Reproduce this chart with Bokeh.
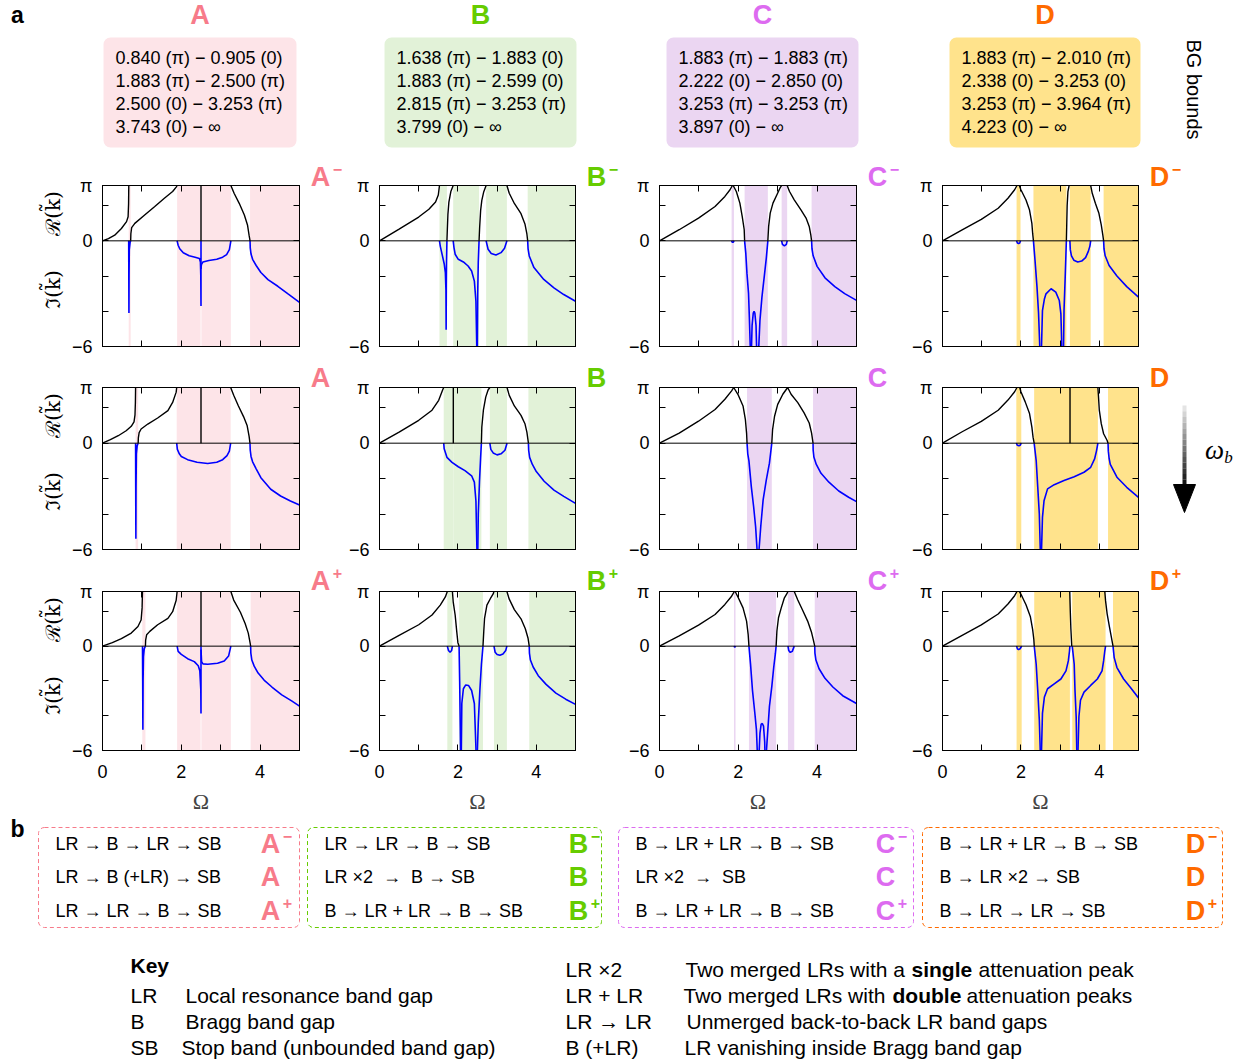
import math
from bokeh.plotting import figure
from bokeh.models import Range1d, FixedTicker, LinearAxis, Span
from bokeh.layouts import column, row
from bokeh.core.properties import value
from bokeh.embed import file_html
from bokeh.resources import INLINE

PI = math.pi

# ---------------- data: band-gap bounds (header, middle row) ----------------
bg_text_A = ["0.840 (π) − 0.905 (0)", "1.883 (π) − 2.500 (π)", "2.500 (0) − 3.253 (π)", "3.743 (0) − ∞"]
bg_text_B = ["1.638 (π) − 1.883 (0)", "1.883 (π) − 2.599 (0)", "2.815 (π) − 3.253 (π)", "3.799 (0) − ∞"]
bg_text_C = ["1.883 (π) − 1.883 (π)", "2.222 (0) − 2.850 (0)", "3.253 (π) − 3.253 (π)", "3.897 (0) − ∞"]
bg_text_D = ["1.883 (π) − 2.010 (π)", "2.338 (0) − 3.253 (0)", "3.253 (π) − 3.964 (π)", "4.223 (0) − ∞"]

# ---------------- data: gaps (shaded), Re(k) (black), Im(k) (blue) ----------------
# Row 1 (minus)
gaps_Am = [(0.665, 0.715), (1.894, 2.49), (2.51, 3.258), (3.745, 5.0)]
re_Am = [
    [(0, 0), (0.15, 0.13), (0.31, 0.32), (0.48, 0.70), (0.61, 1.09), (0.65, 1.37), (0.662, 2.1), (0.667, PI)],
    [(0.715, 0), (0.72, 0.4), (0.74, 0.75), (0.82, 0.99), (1.07, 1.47), (1.32, 1.94), (1.57, 2.42), (1.78, 2.8), (1.87, 3.05), (1.894, PI)],
    [(2.5, 0), (2.5, PI)],
    [(3.258, PI), (3.34, 2.7), (3.47, 2.13), (3.6, 1.47), (3.68, 0.9), (3.72, 0.32), (3.745, 0)],
]
im_Am = [
    [(0.665, 0), (0.668, -2.0), (0.671, -4.1), (0.674, -2.0), (0.68, -0.5), (0.70, -0.1), (0.715, 0)],
    [(1.894, 0), (1.92, -0.25), (1.96, -0.45), (2.05, -0.68), (2.2, -0.85), (2.35, -0.93), (2.46, -1.0), (2.485, -1.2), (2.495, -2.0), (2.5, -3.7), (2.5, 0)],
    [(2.5, -1.6), (2.51, -1.35), (2.55, -1.2), (2.7, -1.12), (2.9, -1.05), (3.05, -0.93), (3.15, -0.78), (3.22, -0.5), (3.258, 0)],
    [(3.745, 0), (3.75, -0.4), (3.77, -0.75), (3.81, -1.05), (3.9, -1.4), (4.02, -1.8), (4.2, -2.2), (4.45, -2.58), (4.7, -3.0), (5.0, -3.49)],
]
gaps_Bm = [(1.53, 1.72), (1.88, 2.54), (2.72, 3.25), (3.78, 5.0)]
re_Bm = [
    [(0, 0), (0.5, 0.67), (1.0, 1.35), (1.26, 1.79), (1.43, 2.2), (1.5, 2.6), (1.53, PI)],
    [(1.72, 0), (1.73, 0.6), (1.745, 1.5), (1.77, 2.2), (1.82, 2.8), (1.88, PI)],
    [(2.54, 0), (2.555, 0.77), (2.58, 1.73), (2.61, 2.3), (2.66, 2.79), (2.72, PI)],
    [(3.25, PI), (3.31, 2.7), (3.44, 2.12), (3.61, 1.54), (3.71, 0.96), (3.76, 0.39), (3.78, 0)],
]
im_Bm = [
    [(1.53, 0), (1.55, -0.3), (1.6, -0.8), (1.65, -1.3), (1.68, -1.8), (1.695, -2.8), (1.70, -5.05), (1.705, -2.5), (1.71, -1.2), (1.72, 0)],
    [(1.88, 0), (1.9, -0.38), (1.93, -0.76), (2.01, -1.05), (2.14, -1.2), (2.26, -1.43), (2.35, -1.71), (2.42, -2.29), (2.46, -3.43), (2.485, -6.5)],
    [(2.495, -6.5), (2.505, -3.0), (2.52, -1.2), (2.54, 0)],
    [(2.72, 0), (2.77, -0.48), (2.85, -0.72), (2.97, -0.8), (3.1, -0.67), (3.19, -0.42), (3.25, 0)],
    [(3.78, 0), (3.79, -0.45), (3.82, -0.86), (3.94, -1.52), (4.19, -2.19), (4.45, -2.67), (4.7, -3.05), (5.0, -3.43)],
]
gaps_Cm = [(1.83, 1.89), (2.16, 2.75), (3.1, 3.24), (3.86, 5.0)]
re_Cm = [
    [(0, 0), (0.5, 0.63), (0.99, 1.29), (1.41, 1.95), (1.66, 2.52), (1.79, 2.9), (1.85, PI)],
    [(1.87, PI), (1.95, 2.8), (2.04, 2.14), (2.1, 1.38), (2.15, 0.63), (2.16, 0)],
    [(2.75, 0), (2.77, 0.82), (2.81, 1.57), (2.88, 2.14), (2.98, 2.62), (3.06, 3.0), (3.1, PI)],
    [(3.24, PI), (3.3, 2.8), (3.42, 2.33), (3.59, 1.76), (3.72, 1.29), (3.8, 0.82), (3.84, 0.34), (3.86, 0)],
]
im_Cm = [
    [(1.83, 0), (1.845, -0.07), (1.86, -0.09), (1.875, -0.07), (1.89, 0)],
    [(2.16, 0), (2.19, -0.7), (2.22, -1.85), (2.26, -3.0), (2.28, -4.3), (2.31, -6.5)],
    [(2.33, -6.5), (2.35, -4.8), (2.38, -4.1), (2.40, -4.0), (2.42, -4.1), (2.45, -4.8), (2.47, -6.5)],
    [(2.51, -6.5), (2.55, -4.5), (2.6, -3.2), (2.66, -2.0), (2.71, -1.0), (2.75, 0)],
    [(3.1, 0), (3.12, -0.2), (3.17, -0.29), (3.22, -0.2), (3.24, 0)],
    [(3.86, 0), (3.87, -0.45), (3.9, -0.85), (4.0, -1.45), (4.2, -2.1), (4.45, -2.6), (4.7, -3.0), (5.0, -3.38)],
]
gaps_Dm = [(1.89, 1.99), (2.32, 3.16), (3.25, 3.78), (4.11, 5.0)]
re_Dm = [
    [(0, 0), (0.49, 0.61), (0.99, 1.22), (1.42, 1.85), (1.67, 2.42), (1.84, 2.9), (1.9, PI)],
    [(1.96, PI), (2.0, 2.9), (2.13, 2.32), (2.22, 1.75), (2.28, 0.99), (2.3, 0.42), (2.32, 0)],
    [(3.16, 0), (3.17, 1.0), (3.18, 2.0), (3.2, 2.8), (3.23, PI)],
    [(3.78, PI), (3.82, 2.7), (3.9, 2.13), (3.99, 1.56), (4.05, 0.9), (4.09, 0.32), (4.11, 0)],
]
im_Dm = [
    [(1.89, 0), (1.91, -0.12), (1.94, -0.15), (1.97, -0.12), (1.99, 0)],
    [(2.32, 0), (2.36, -1.1), (2.41, -2.6), (2.45, -4.1), (2.49, -6.5)],
    [(2.52, -6.5), (2.55, -3.96), (2.6, -3.3), (2.64, -3.01), (2.77, -2.72), (2.89, -2.91), (2.98, -3.39), (3.02, -4.15), (3.05, -6.5)],
    [(3.085, -6.5), (3.1, -3.96), (3.13, -2.06), (3.16, 0)],
    [(3.25, 0), (3.26, -0.5), (3.29, -0.85), (3.35, -1.1), (3.45, -1.2), (3.55, -1.15), (3.65, -0.95), (3.72, -0.6), (3.76, -0.3), (3.78, 0)],
    [(4.11, 0), (4.12, -0.45), (4.15, -0.85), (4.25, -1.4), (4.45, -2.0), (4.7, -2.6), (5.0, -3.2)],
]

# Row 2 (nominal)
gaps_A = [(0.840, 0.905), (1.883, 2.500), (2.500, 3.253), (3.743, 5.0)]
re_A = [
    [(0, 0), (0.2, 0.2), (0.4, 0.42), (0.6, 0.7), (0.73, 0.95), (0.8, 1.2), (0.825, 1.6), (0.835, 2.3), (0.84, PI)],
    [(0.905, 0), (0.91, 0.3), (0.93, 0.6), (0.98, 0.8), (1.15, 1.08), (1.4, 1.42), (1.66, 1.84), (1.78, 2.3), (1.87, 2.88), (1.883, PI)],
    [(2.5, PI), (2.5, 0)],
    [(3.253, PI), (3.33, 2.7), (3.45, 2.1), (3.58, 1.5), (3.67, 1.0), (3.72, 0.4), (3.743, 0)],
]
im_A = [
    [(0.84, 0), (0.843, -2.5), (0.847, -5.4), (0.851, -2.5), (0.86, -0.6), (0.88, -0.15), (0.905, 0)],
    [(1.883, 0), (1.9, -0.35), (1.95, -0.6), (2.0, -0.75), (2.16, -0.93), (2.4, -1.08), (2.67, -1.15), (2.9, -1.08), (3.05, -0.93), (3.16, -0.7), (3.22, -0.45), (3.253, 0)],
    [(3.743, 0), (3.75, -0.4), (3.77, -0.75), (3.81, -1.05), (3.9, -1.45), (4.02, -1.95), (4.27, -2.6), (4.52, -2.98), (4.77, -3.26), (5.0, -3.49)],
]
gaps_B = [(1.638, 1.883), (1.883, 2.599), (2.815, 3.253), (3.799, 5.0)]
re_B = [
    [(0, 0), (0.5, 0.62), (1.0, 1.29), (1.34, 1.86), (1.51, 2.42), (1.61, 3.0), (1.638, PI)],
    [(1.883, PI), (1.883, 0)],
    [(2.599, 0), (2.61, 0.9), (2.65, 1.86), (2.71, 2.6), (2.77, 3.0), (2.815, PI)],
    [(3.253, PI), (3.31, 2.7), (3.44, 2.1), (3.61, 1.57), (3.71, 1.1), (3.76, 0.62), (3.799, 0)],
]
im_B = [
    [(1.638, 0), (1.65, -0.32), (1.72, -0.8), (1.85, -1.08), (2.01, -1.33), (2.18, -1.55), (2.35, -1.84), (2.42, -2.2), (2.46, -3.26), (2.49, -6.5)],
    [(2.505, -6.5), (2.52, -4.0), (2.55, -2.2), (2.58, -0.8), (2.599, 0)],
    [(2.815, 0), (2.84, -0.35), (2.9, -0.55), (3.0, -0.66), (3.1, -0.6), (3.2, -0.4), (3.253, 0)],
    [(3.799, 0), (3.805, -0.4), (3.83, -0.8), (3.9, -1.2), (4.0, -1.6), (4.2, -2.15), (4.45, -2.65), (4.7, -3.0), (5.0, -3.4)],
]
gaps_C = [(2.222, 2.850), (3.897, 5.0)]
re_C = [
    [(0, 0), (0.5, 0.57), (0.99, 1.24), (1.41, 1.9), (1.66, 2.48), (1.83, 2.95), (1.883, PI), (1.99, 2.76), (2.12, 2.1), (2.18, 1.33), (2.21, 0.57), (2.222, 0)],
    [(2.85, 0), (2.87, 0.76), (2.92, 1.52), (3.0, 2.19), (3.13, 2.76), (3.253, PI), (3.34, 2.76), (3.51, 2.29), (3.67, 1.71), (3.8, 1.14), (3.86, 0.57), (3.897, 0)],
]
im_C = [
    [(2.222, 0), (2.24, -0.6), (2.27, -1.0), (2.33, -2.45), (2.39, -3.6), (2.44, -4.73), (2.49, -6.5)],
    [(2.51, -6.5), (2.57, -4.7), (2.63, -3.2), (2.71, -2.08), (2.79, -1.13), (2.83, -0.38), (2.85, 0)],
    [(3.897, 0), (3.9, -0.4), (3.92, -0.8), (3.98, -1.2), (4.1, -1.7), (4.3, -2.2), (4.55, -2.7), (4.8, -3.05), (5.0, -3.3)],
]
gaps_D = [(1.883, 2.010), (2.338, 3.253), (3.253, 3.964), (4.223, 5.0)]
re_D = [
    [(0, 0), (0.49, 0.63), (0.99, 1.23), (1.42, 1.86), (1.67, 2.43), (1.84, 2.9), (1.9, PI)],
    [(1.97, PI), (2.0, 2.9), (2.11, 2.33), (2.22, 1.67), (2.28, 0.91), (2.31, 0.34), (2.338, 0)],
    [(3.253, 0), (3.253, PI)],
    [(3.964, PI), (3.98, 2.6), (4.0, 1.86), (4.05, 1.1), (4.11, 0.53), (4.2, 0.15), (4.223, 0)],
]
im_D = [
    [(1.883, 0), (1.91, -0.12), (1.95, -0.15), (1.98, -0.12), (2.01, 0)],
    [(2.338, 0), (2.39, -0.98), (2.43, -2.49), (2.47, -4.0), (2.5, -6.5)],
    [(2.52, -6.5), (2.55, -4.19), (2.59, -3.25), (2.68, -2.58), (2.85, -2.34), (3.1, -2.11), (3.36, -1.89), (3.61, -1.64), (3.78, -1.36), (3.88, -0.89), (3.93, -0.42), (3.964, 0)],
    [(4.223, 0), (4.23, -0.45), (4.25, -0.85), (4.28, -1.2), (4.45, -1.92), (4.7, -2.49), (5.0, -3.06)],
]

# Row 3 (plus)
gaps_Ap = [(1.01, 1.09), (1.894, 2.49), (2.51, 3.258), (3.76, 5.0)]
re_Ap = [
    [(0, 0), (0.25, 0.2), (0.48, 0.43), (0.73, 0.75), (0.9, 1.13), (0.98, 1.5), (1.005, 2.2), (1.015, PI)],
    [(1.09, 0), (1.095, 0.35), (1.12, 0.65), (1.2, 0.85), (1.4, 1.23), (1.66, 1.6), (1.78, 1.98), (1.87, 2.64), (1.894, PI)],
    [(2.5, 0), (2.5, PI)],
    [(3.258, PI), (3.33, 2.65), (3.5, 1.95), (3.62, 1.3), (3.7, 0.75), (3.745, 0.2), (3.76, 0)],
]
im_Ap = [
    [(1.015, 0), (1.02, -2.0), (1.025, -4.8), (1.03, -2.0), (1.04, -0.6), (1.06, -0.15), (1.09, 0)],
    [(1.894, 0), (1.92, -0.3), (2.0, -0.47), (2.16, -0.72), (2.33, -0.89), (2.43, -1.13), (2.47, -1.42), (2.495, -2.5), (2.5, -3.87), (2.5, 0)],
    [(2.5, -0.2), (2.515, -0.9), (2.55, -1.02), (2.67, -1.04), (2.92, -0.98), (3.09, -0.85), (3.2, -0.57), (3.258, 0)],
    [(3.76, 0), (3.765, -0.4), (3.79, -0.8), (3.85, -1.15), (3.95, -1.55), (4.1, -1.95), (4.3, -2.35), (4.55, -2.8), (4.8, -3.15), (5.0, -3.45)],
]
gaps_Bp = [(1.73, 1.86), (2.03, 2.64), (2.92, 3.25), (3.82, 5.0)]
re_Bp = [
    [(0, 0), (0.5, 0.62), (1.0, 1.23), (1.34, 1.79), (1.55, 2.36), (1.68, 2.83), (1.73, PI)],
    [(1.86, PI), (1.88, 2.55), (1.93, 1.79), (1.97, 0.85), (2.0, 0.2), (2.03, 0)],
    [(2.64, 0), (2.66, 0.85), (2.68, 1.6), (2.74, 2.36), (2.83, 2.74), (2.9, 3.0), (2.92, PI)],
    [(3.25, PI), (3.31, 2.7), (3.44, 2.1), (3.61, 1.57), (3.72, 1.0), (3.79, 0.45), (3.82, 0)],
]
im_Bp = [
    [(1.73, 0), (1.76, -0.25), (1.8, -0.35), (1.84, -0.25), (1.86, 0)],
    [(2.03, 0), (2.045, -2.0), (2.06, -4.5), (2.07, -6.5)],
    [(2.085, -6.5), (2.1, -3.3), (2.14, -2.45), (2.2, -2.23), (2.27, -2.26), (2.35, -2.55), (2.42, -3.3), (2.47, -6.5)],
    [(2.49, -6.5), (2.52, -4.4), (2.56, -2.55), (2.6, -1.04), (2.64, 0)],
    [(2.92, 0), (2.95, -0.35), (3.0, -0.48), (3.07, -0.52), (3.15, -0.45), (3.22, -0.25), (3.25, 0)],
    [(3.82, 0), (3.825, -0.4), (3.85, -0.8), (3.92, -1.2), (4.05, -1.7), (4.25, -2.2), (4.5, -2.7), (4.75, -3.05), (5.0, -3.35)],
]
gaps_Cp = [(1.89, 1.93), (2.27, 2.96), (3.26, 3.42), (3.94, 5.0)]
re_Cp = [
    [(0, 0), (0.5, 0.59), (0.99, 1.21), (1.41, 1.82), (1.66, 2.4), (1.83, 2.87), (1.9, PI)],
    [(1.92, PI), (2.0, 2.78), (2.12, 2.2), (2.21, 1.44), (2.25, 0.68), (2.27, 0)],
    [(2.96, 0), (2.98, 0.87), (3.02, 1.63), (3.09, 2.2), (3.17, 2.78), (3.23, 3.0), (3.26, PI)],
    [(3.42, PI), (3.51, 2.65), (3.63, 2.08), (3.76, 1.44), (3.86, 0.78), (3.91, 0.3), (3.94, 0)],
]
im_Cp = [
    [(1.89, 0), (1.905, -0.05), (1.92, -0.05), (1.93, 0)],
    [(2.27, 0), (2.31, -1.02), (2.36, -2.54), (2.42, -3.86), (2.46, -4.8), (2.49, -6.5)],
    [(2.52, -6.5), (2.55, -5.0), (2.58, -4.49), (2.61, -4.45), (2.64, -4.6), (2.67, -5.5), (2.68, -6.5)],
    [(2.7, -6.5), (2.75, -4.8), (2.79, -3.47), (2.85, -2.33), (2.9, -1.2), (2.94, -0.45), (2.96, 0)],
    [(3.26, 0), (3.28, -0.25), (3.32, -0.36), (3.37, -0.3), (3.42, 0)],
    [(3.94, 0), (3.945, -0.4), (3.97, -0.8), (4.05, -1.3), (4.2, -1.85), (4.4, -2.35), (4.65, -2.85), (5.0, -3.3)],
]
gaps_Dp = [(1.89, 2.02), (2.34, 3.25), (3.31, 4.16), (4.35, 5.0)]
re_Dp = [
    [(0, 0), (0.49, 0.61), (0.99, 1.22), (1.42, 1.85), (1.67, 2.42), (1.84, 2.9), (1.9, PI)],
    [(1.96, PI), (2.02, 2.9), (2.13, 2.38), (2.24, 1.71), (2.3, 0.95), (2.33, 0.38), (2.34, 0)],
    [(3.246, PI), (3.26, 2.0), (3.275, 1.0), (3.297, 0)],
    [(4.14, PI), (4.16, 2.6), (4.2, 1.86), (4.26, 1.1), (4.31, 0.49), (4.35, 0)],
]
im_Dp = [
    [(1.89, 0), (1.91, -0.15), (1.94, -0.2), (1.98, -0.15), (2.02, 0)],
    [(2.34, 0), (2.39, -1.04), (2.43, -2.55), (2.47, -4.25), (2.5, -6.5)],
    [(2.52, -6.5), (2.55, -3.87), (2.6, -2.92), (2.68, -2.45), (2.85, -2.17), (3.02, -1.89), (3.15, -1.42), (3.21, -0.85), (3.24, -0.28), (3.25, 0)],
    [(3.31, 0), (3.36, -1.04), (3.38, -2.55), (3.41, -4.06), (3.43, -6.5)],
    [(3.45, -6.5), (3.48, -4.06), (3.52, -3.11), (3.61, -2.64), (3.78, -2.26), (3.95, -1.89), (4.07, -1.42), (4.11, -0.85), (4.14, -0.28), (4.16, 0)],
    [(4.35, 0), (4.38, -0.66), (4.45, -1.23), (4.62, -1.89), (4.79, -2.36), (5.0, -2.98)],
]

# ticks
x_major = [0, 2, 4]
x_minor = [1, 3, 5]
x_all = [0, 1, 2, 3, 4, 5]
y_major = [-6, 0, PI]
y_minor = [-4, -2, 2]
y_all = [-6, -4, -2, 0, 2, PI]
y_tick_labels = {-6: "−6", 0: "0", PI: "π"}

seq_A = ["LR → B → LR → SB", "LR → B (+LR) → SB", "LR → LR → B → SB"]
seq_B = ["LR → LR → B → SB", "LR ×2 \u00a0→\u00a0 B → SB", "B → LR + LR → B → SB"]
seq_C = ["B → LR + LR → B → SB", "LR ×2 \u00a0→\u00a0 SB", "B → LR + LR → B → SB"]
seq_D = ["B → LR + LR → B → SB", "B → LR ×2 → SB", "B → LR → LR → SB"]

key_left_terms = ["LR", "B", "SB"]
key_left_desc = ["Local resonance band gap", "Bragg band gap", "Stop band (unbounded band gap)"]
key_right_terms = ["LR ×2", "LR + LR", "LR → LR", "B (+LR)"]

# ---------------- style / geometry ----------------
FONT = "Liberation Sans"
SERIF = "Liberation Serif"
COL = {"A": "#F77B8A", "B": "#66CC00", "C": "#DD6BF0", "D": "#FF6A00"}
FILL = {"A": "#FDE4E8", "B": "#E2F2D8", "C": "#EBD6F2", "D": "#FFE38C"}
LETTERS = ["A", "B", "C", "D"]

HDR_H = 158
YLAB_W = 68
P_W = [235, 234, 235, 234]
P_L = [33, 32, 32, 33]
P_R = 4
G_X = [303, 579, 860, 1142]
G_W = [42, 46, 48, 101]
ROW_Y = [158, 360, 560]
ROW_H = [202, 200, 256]
ROW_T = [27, 27, 31]
ROW_B = [14, 11, 63]
LET_X = [320, 596, 877, 1159]
LET_Y = [176, 377, 580]
SUPS = ["−", None, "+"]
BOT_Y = 816


def ticks_style(ax):
    ax.major_tick_in = 6
    ax.major_tick_out = 0
    ax.minor_tick_in = 6
    ax.minor_tick_out = 0
    ax.major_tick_line_color = "black"
    ax.minor_tick_line_color = "black"
    ax.axis_line_color = "black"
    ax.major_label_text_font = FONT
    ax.major_label_text_color = "black"
    ax.major_label_text_font_size = "18px"


def panel(ci, ri, letter, gaps, re_segs, im_segs):
    p = figure(width=P_W[ci], height=ROW_H[ri], x_range=Range1d(0, 5), y_range=Range1d(-6, PI),
               output_backend="svg", toolbar_location=None, title=None, frame_align=False,
               min_border_left=P_L[ci], min_border_right=P_R,
               min_border_top=ROW_T[ri], min_border_bottom=ROW_B[ri])
    p.grid.visible = False
    p.outline_line_color = "black"
    p.background_fill_color = "white"
    p.border_fill_color = "white"
    p.quad(left=[g[0] for g in gaps], right=[g[1] for g in gaps], bottom=-6, top=PI,
           fill_color=FILL[letter], line_color=None)
    p.add_layout(Span(location=0, dimension="width", line_color="black", line_width=1))
    p.multi_line(xs=[[q[0] for q in s] for s in re_segs], ys=[[q[1] for q in s] for s in re_segs],
                 line_color="black", line_width=1.4)
    p.multi_line(xs=[[q[0] for q in s] for s in im_segs], ys=[[q[1] for q in s] for s in im_segs],
                 line_color="#0000FF", line_width=1.6)
    xa = p.xaxis[0]
    ya = p.yaxis[0]
    ya.ticker = FixedTicker(ticks=y_major, minor_ticks=y_minor)
    ya.major_label_overrides = y_tick_labels
    ticks_style(ya)
    ya.major_label_standoff = 10
    ticks_style(xa)
    if ri == 2:
        xa.ticker = FixedTicker(ticks=x_major, minor_ticks=x_minor)
        xa.major_label_standoff = 14
        xa.axis_label = "Ω"
        xa.axis_label_text_font = SERIF
        xa.axis_label_text_font_size = "22px"
        xa.axis_label_text_font_style = "normal"
        xa.axis_label_standoff = 8
    else:
        xa.ticker = FixedTicker(ticks=[], minor_ticks=x_all)
        xa.major_label_standoff = 0
    ra = LinearAxis(ticker=FixedTicker(ticks=[], minor_ticks=y_all))
    ticks_style(ra)
    ra.major_label_standoff = 0
    p.add_layout(ra, "right")
    ta = LinearAxis(ticker=FixedTicker(ticks=[], minor_ticks=x_all))
    ticks_style(ta)
    ta.major_label_standoff = 0
    p.add_layout(ta, "above")
    return p


def canvas(width, height, x0, y0):
    c = figure(width=width, height=height, x_range=Range1d(x0, x0 + width),
               y_range=Range1d(y0 + height, y0),
               output_backend="svg", toolbar_location=None, title=None, frame_align=False,
               min_border_left=0, min_border_right=0, min_border_top=0, min_border_bottom=0,
               x_axis_location=None, y_axis_location=None)
    c.grid.visible = False
    c.outline_line_color = None
    c.background_fill_color = "white"
    c.border_fill_color = "white"
    return c


def txt(c, x, y, s, size="18px", color="black", bold=False, align="left", font=FONT,
        angle=0.0, italic=False):
    style = "bold" if bold else ("italic" if italic else "normal")
    c.text(x=[x], y=[y], text=[s], text_align=align, text_baseline="middle",
           text_font=value(font), text_font_style=style, text_font_size=size,
           text_color=color, angle=angle)


def letter_sup(c, x, y, letter, sup, size="27px"):
    txt(c, x, y, letter, size=size, color=COL[letter], bold=True, align="center")
    if sup:
        txt(c, x + 17, y - 8, sup, size="16px", color=COL[letter], bold=True, align="center")


# ---------------- header ----------------
hdr = canvas(1243, HDR_H, 0, 0)
txt(hdr, 17, 14, "a", size="23px", bold=True, align="center")
box_l = [103, 384, 666, 949]
box_r = [296, 576, 858, 1140]
bg_texts = [bg_text_A, bg_text_B, bg_text_C, bg_text_D]
hdr.quad(left=box_l, right=box_r, top=[37] * 4, bottom=[147] * 4,
         fill_color=[FILL[l] for l in LETTERS], line_color=None, border_radius=7)
for i, l in enumerate(LETTERS):
    txt(hdr, (box_l[i] + box_r[i]) / 2, 14, l, size="27px", color=COL[l], bold=True, align="center")
    for j, s in enumerate(bg_texts[i]):
        txt(hdr, box_l[i] + 12, 57 + 23 * j, s, size="18px")
txt(hdr, 1193, 89, "BG bounds", size="20px", align="center", angle=-PI / 2)

# ---------------- grid of panels ----------------
panel_rows = [
    [("A", gaps_Am, re_Am, im_Am), ("B", gaps_Bm, re_Bm, im_Bm),
     ("C", gaps_Cm, re_Cm, im_Cm), ("D", gaps_Dm, re_Dm, im_Dm)],
    [("A", gaps_A, re_A, im_A), ("B", gaps_B, re_B, im_B),
     ("C", gaps_C, re_C, im_C), ("D", gaps_D, re_D, im_D)],
    [("A", gaps_Ap, re_Ap, im_Ap), ("B", gaps_Bp, re_Bp, im_Bp),
     ("C", gaps_Cp, re_Cp, im_Cp), ("D", gaps_Dp, re_Dp, im_Dp)],
]
rows = []
for ri, pr in enumerate(panel_rows):
    y0 = ROW_Y[ri]
    h = ROW_H[ri]
    ylab = canvas(YLAB_W, h, 0, y0)
    ft = y0 + ROW_T[ri]
    txt(ylab, 52, ft + 28, "ℛ(k̃)", size="20px", align="center", font="DejaVu Serif", angle=PI / 2)
    txt(ylab, 52, ft + 104, "ℑ(k̃)", size="20px", align="center", font="DejaVu Serif", angle=PI / 2)
    children = [ylab]
    for ci, spec in enumerate(pr):
        children.append(panel(ci, ri, *spec))
        g = canvas(G_W[ci], h, G_X[ci], y0)
        letter_sup(g, LET_X[ci], LET_Y[ri], spec[0], SUPS[ri])
        if ci == 3 and ri == 1:
            n = 14
            ys = [405 + (485 - 405) * k / n for k in range(n + 1)]
            cols = []
            for k in range(n):
                v = int(245 - 225 * (k + 1) / n)
                cols.append("#%02x%02x%02x" % (v, v, v))
            g.segment(x0=[1184] * n, y0=ys[:-1], x1=[1184] * n, y1=ys[1:], line_color=cols,
                      line_width=4)
            g.patch(x=[1173, 1195, 1184], y=[484, 484, 512], fill_color="black", line_color="black")
            txt(g, 1214, 449, "ω", size="27px", font=SERIF, italic=True, align="center")
            txt(g, 1228, 457, "b", size="17px", font=SERIF, italic=True, align="center")
        children.append(g)
    rows.append(row(*children, spacing=0))

# ---------------- panel b ----------------
bot = canvas(1243, 1064 - BOT_Y, 0, BOT_Y)
txt(bot, 17, 828, "b", size="23px", bold=True, align="center")
bl = [38, 307, 618, 922]
br = [299, 601, 913, 1222]
bot.quad(left=bl, right=br, top=[827] * 4, bottom=[927] * 4, fill_color=None,
         line_color=[COL[l] for l in LETTERS], line_dash="4 3", line_width=1, border_radius=6)
seqs = [seq_A, seq_B, seq_C, seq_D]
letter_x = [270, 578, 885, 1195]
for i, l in enumerate(LETTERS):
    for j, s in enumerate(seqs[i]):
        yy = [843, 876, 910][j]
        txt(bot, bl[i] + 17, yy, s, size="18px")
        letter_sup(bot, letter_x[i], yy, l, SUPS[j])

txt(bot, 130, 965, "Key", size="21px", bold=True)
for j in range(3):
    yy = 995 + 26 * j
    txt(bot, 130, yy, key_left_terms[j], size="21px")
    txt(bot, [185, 185, 181][j], yy, key_left_desc[j], size="21px")
for j in range(4):
    yy = 969 + 26 * j
    txt(bot, 565, yy, key_right_terms[j], size="21px")
txt(bot, 685, 969, "Two merged LRs with a", size="21px")
txt(bot, 911, 969, "single", size="21px", bold=True)
txt(bot, 978, 969, "attenuation peak", size="21px")
txt(bot, 683, 995, "Two merged LRs with", size="21px")
txt(bot, 892, 995, "double", size="21px", bold=True)
txt(bot, 966, 995, "attenuation peaks", size="21px")
txt(bot, 686, 1021, "Unmerged back-to-back LR band gaps", size="21px")
txt(bot, 684, 1047, "LR vanishing inside Bragg band gap", size="21px")

page = column(hdr, rows[0], rows[1], rows[2], bot, spacing=0)
open("out.html", "w").write(file_html(page, INLINE))
